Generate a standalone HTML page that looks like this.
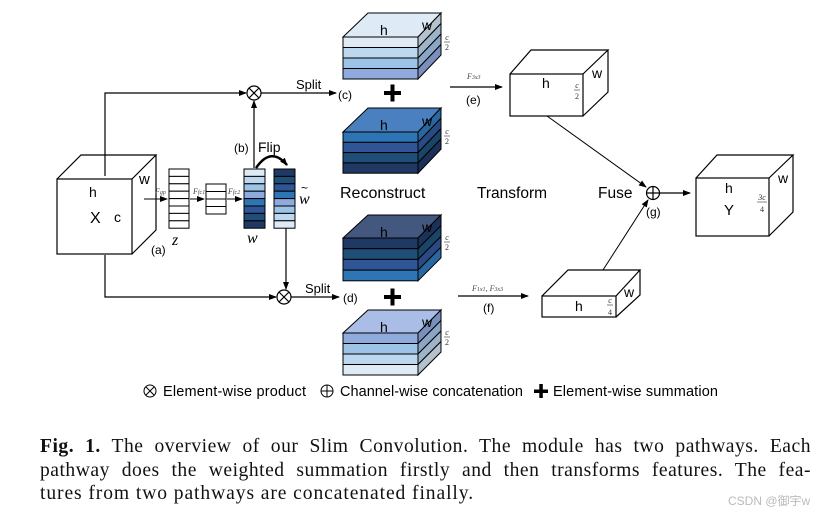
<!DOCTYPE html>
<html><head><meta charset="utf-8"><style>
html,body{margin:0;padding:0;background:#fff;}
body{width:834px;height:515px;position:relative;overflow:hidden;}
svg{position:absolute;left:0;top:0;}
.cap{position:absolute;left:40px;width:771px;font-family:"Liberation Serif",serif;font-size:19.6px;letter-spacing:0.9px;line-height:23.5px;color:#111;white-space:nowrap;}
.j{text-align:justify;text-align-last:justify;letter-spacing:0.5px;}
.wm{position:absolute;left:728px;top:492px;font-family:"Liberation Sans","Noto Sans CJK SC",sans-serif;font-size:12px;color:#bbb;}
</style></head><body>
<svg width="834" height="515" viewBox="0 0 834 515" font-family="Liberation Sans, sans-serif">
<defs>
<marker id="a" markerWidth="8" markerHeight="8" refX="7" refY="4" orient="auto" markerUnits="userSpaceOnUse"><path d="M0,1 L8,4 L0,7 z" fill="#000"/></marker>
</defs>
<g stroke="#000" stroke-width="1.2" fill="none">
<rect x="57" y="179" width="75" height="75" fill="#fff"/>
<path d="M57,179 L81,155 L156,155 L132,179 M156,155 L156,230 L132,254" />
<path d="M105,176 L105,93 L246,93" marker-end="url(#a)"/>
<path d="M105,255 L105,297 L276,297" marker-end="url(#a)"/>
<circle cx="254" cy="93" r="7"/><path d="M249,88 L259,98 M259,88 L249,98"/>
<circle cx="284" cy="297" r="7"/><path d="M279,292 L289,302 M289,292 L279,302"/>
<path d="M254,168 L254,101" marker-end="url(#a)"/>
<path d="M286,228 L286,289" marker-end="url(#a)"/>
<path d="M261,93 L336,93" marker-end="url(#a)"/>
<path d="M291,297 L339,297" marker-end="url(#a)"/>
<path d="M144,199 L167,199" stroke-width="1" marker-end="url(#a)"/>
<path d="M190,199 L204,199" stroke-width="1" marker-end="url(#a)"/>
<path d="M227,199 L242,199" stroke-width="1" marker-end="url(#a)"/>
<path d="M256,168 Q271,146 287,165" stroke-width="2.5" marker-end="url(#a)"/>
<path d="M450,87 L502,87" marker-end="url(#a)"/>
<path d="M458,296 L528,296" marker-end="url(#a)"/>
<path d="M547,116 L646,187" stroke-width="1" marker-end="url(#a)"/>
<path d="M603,270 L648,200" stroke-width="1" marker-end="url(#a)"/>
<circle cx="653" cy="193" r="6.5"/><path d="M646.5,193 L659.5,193 M653,186.5 L653,199.5"/>
<path d="M660,193 L690,193" marker-end="url(#a)"/>
<rect x="510" y="74" width="73" height="42" fill="#fff"/>
<path d="M510,74 L531,50 L608,50 L583,74 M608,50 L608,92 L583,116"/>
<rect x="696" y="178" width="73" height="58" fill="#fff"/>
<path d="M696,178 L717,155 L793,155 L769,178 M793,155 L793,212 L769,236"/>
<rect x="542" y="296" width="74" height="21" fill="#fff"/>
<path d="M542,296 L568,270 L640,270 L616,296 M640,270 L640,295 L616,317"/>
</g>
<g stroke="#000" stroke-width="1">
<g fill="#fff">
<rect x="169" y="169" width="20" height="7.4"/><rect x="169" y="176.4" width="20" height="7.4"/><rect x="169" y="183.8" width="20" height="7.4"/><rect x="169" y="191.2" width="20" height="7.4"/><rect x="169" y="198.6" width="20" height="7.4"/><rect x="169" y="206" width="20" height="7.4"/><rect x="169" y="213.4" width="20" height="7.4"/><rect x="169" y="220.8" width="20" height="7.4"/>
<rect x="206" y="184" width="20" height="7.5"/><rect x="206" y="191.5" width="20" height="7.5"/><rect x="206" y="199" width="20" height="7.5"/><rect x="206" y="206.5" width="20" height="7.5"/>
</g>
<rect x="244" y="169" width="21" height="7.4" fill="#deebf7"/><rect x="244" y="176.4" width="21" height="7.4" fill="#bdd7ee"/><rect x="244" y="183.8" width="21" height="7.4" fill="#9dc3e6"/><rect x="244" y="191.2" width="21" height="7.4" fill="#8faadc"/><rect x="244" y="198.6" width="21" height="7.4" fill="#2e75b6"/><rect x="244" y="206" width="21" height="7.4" fill="#2f5597"/><rect x="244" y="213.4" width="21" height="7.4" fill="#1f4e79"/><rect x="244" y="220.8" width="21" height="7.4" fill="#203864"/>
<rect x="274" y="169" width="21" height="7.4" fill="#203864"/><rect x="274" y="176.4" width="21" height="7.4" fill="#1f4e79"/><rect x="274" y="183.8" width="21" height="7.4" fill="#2f5597"/><rect x="274" y="191.2" width="21" height="7.4" fill="#2e75b6"/><rect x="274" y="198.6" width="21" height="7.4" fill="#8faadc"/><rect x="274" y="206" width="21" height="7.4" fill="#9dc3e6"/><rect x="274" y="213.4" width="21" height="7.4" fill="#bdd7ee"/><rect x="274" y="220.8" width="21" height="7.4" fill="#deebf7"/>
</g>
<g stroke="#000" stroke-width="1">
<polygon points="343,37 368,13 441,13 418,37" fill="#deebf7"/>
<rect x="343" y="37" width="75" height="10.5" fill="#deebf7"/><rect x="343" y="47.5" width="75" height="10.5" fill="#bdd7ee"/><rect x="343" y="58" width="75" height="10.5" fill="#9dc3e6"/><rect x="343" y="68.5" width="75" height="10.5" fill="#8faadc"/>
<polygon points="418,37 441,13 441,23.5 418,47.5" fill="#b4c2cf"/><polygon points="418,47.5 441,23.5 441,34 418,58" fill="#9db3c8"/><polygon points="418,58 441,34 441,44.5 418,68.5" fill="#8aa6c4"/><polygon points="418,68.5 441,44.5 441,55 418,79" fill="#7a8fbd"/>
<polygon points="343,132 368,108 441,108 418,132" fill="#4a80bf"/>
<rect x="343" y="132" width="75" height="10.3" fill="#2e75b6"/><rect x="343" y="142.3" width="75" height="10.3" fill="#2f5597"/><rect x="343" y="152.6" width="75" height="10.3" fill="#1f4e79"/><rect x="343" y="162.9" width="75" height="10.3" fill="#203864"/>
<polygon points="418,132 441,108 441,118.3 418,142.3" fill="#28679f"/><polygon points="418,142.3 441,118.3 441,128.6 418,152.6" fill="#294a84"/><polygon points="418,152.6 441,128.6 441,138.9 418,162.9" fill="#1b4469"/><polygon points="418,162.9 441,138.9 441,149.2 418,173.2" fill="#1c3158"/>
<polygon points="343,238 368,215 441,215 418,238" fill="#44577f"/>
<rect x="343" y="238" width="75" height="10.7" fill="#203864"/><rect x="343" y="248.7" width="75" height="10.7" fill="#1f4e79"/><rect x="343" y="259.4" width="75" height="10.7" fill="#2f5597"/><rect x="343" y="270.1" width="75" height="10.7" fill="#2e75b6"/>
<polygon points="418,238 441,215 441,225.7 418,248.7" fill="#1c3158"/><polygon points="418,248.7 441,225.7 441,236.4 418,259.4" fill="#1b4469"/><polygon points="418,259.4 441,236.4 441,247.1 418,270.1" fill="#294a84"/><polygon points="418,270.1 441,247.1 441,257.8 418,280.8" fill="#28679f"/>
<polygon points="343,333 368,310 441,310 418,333" fill="#a9bde6"/>
<rect x="343" y="333" width="75" height="10.5" fill="#8faadc"/><rect x="343" y="343.5" width="75" height="10.5" fill="#9dc3e6"/><rect x="343" y="354" width="75" height="10.5" fill="#bdd7ee"/><rect x="343" y="364.5" width="75" height="10.5" fill="#deebf7"/>
<polygon points="418,333 441,310 441,320.5 418,343.5" fill="#7a8fbd"/><polygon points="418,343.5 441,320.5 441,331 418,354" fill="#8aa6c4"/><polygon points="418,354 441,331 441,341.5 418,364.5" fill="#9db3c8"/><polygon points="418,364.5 441,341.5 441,352 418,375" fill="#b4c2cf"/>
</g>
<g fill="#000"><rect x="384" y="91" width="17" height="4"/><rect x="390.5" y="84.5" width="4" height="17"/>
<rect x="384" y="295" width="17" height="4"/><rect x="390.5" y="288.5" width="4" height="17"/></g>
<g font-size="14" fill="#000">
<text x="89" y="197">h</text><text x="90" y="223" font-size="16">X</text><text x="114" y="222">c</text><text x="139" y="184" font-size="15">w</text><text x="151" y="254" font-size="12">(a)</text>
<text x="172" y="245" font-family="Liberation Serif,serif" font-style="italic" font-size="16">z</text>
<text x="247" y="243" font-family="Liberation Serif,serif" font-style="italic" font-size="16">w</text>
<text x="299" y="204" font-family="Liberation Serif,serif" font-style="italic" font-size="16">w</text><text x="301" y="192" font-size="12">~</text>
<text x="234" y="152" font-size="12">(b)</text><text x="258" y="152" font-size="14">Flip</text>
<g font-family="Liberation Serif,serif" font-style="italic" font-size="8" fill="#444"><text x="155" y="194">F<tspan font-size="6">gp</tspan></text><text x="193" y="194">F<tspan font-size="6">fc1</tspan></text><text x="228" y="194">F<tspan font-size="6">fc2</tspan></text>
<text x="467" y="79">F<tspan font-size="6">3x3</tspan></text><text x="472" y="291">F<tspan font-size="6">1x1</tspan>, F<tspan font-size="6">3x3</tspan></text></g>
<text x="296" y="89" font-size="13">Split</text><text x="338" y="99" font-size="12">(c)</text>
<text x="305" y="293" font-size="13">Split</text><text x="343" y="302" font-size="12">(d)</text>
<text x="466" y="104" font-size="12">(e)</text><text x="483" y="312" font-size="12">(f)</text><text x="646" y="216" font-size="12">(g)</text>
<text x="340" y="198" font-size="16">Reconstruct</text><text x="477" y="198" font-size="15.5">Transform</text><text x="598" y="198" font-size="15.5">Fuse</text>
<text x="380" y="35">h</text><text x="422" y="30" font-size="14">w</text>
<text x="380" y="130">h</text><text x="422" y="126" font-size="14">w</text>
<text x="380" y="237">h</text><text x="422" y="232" font-size="14">w</text>
<text x="380" y="332">h</text><text x="422" y="327" font-size="14">w</text>
<text x="542" y="88">h</text><text x="592" y="78" font-size="14">w</text>
<text x="725" y="193">h</text><text x="724" y="215" font-size="15">Y</text><text x="778" y="183" font-size="14">w</text>
<text x="575" y="311">h</text><text x="624" y="297" font-size="14">w</text>
</g>
<g font-family="Liberation Serif,serif" font-style="italic" font-size="8" fill="#333" text-anchor="middle">
<text x="447" y="40">c</text><line x1="444" y1="42" x2="450" y2="42" stroke="#333" stroke-width="0.6"/><text x="447" y="50" font-style="normal">2</text>
<text x="447" y="134">c</text><line x1="444" y1="136" x2="450" y2="136" stroke="#333" stroke-width="0.6"/><text x="447" y="144" font-style="normal">2</text>
<text x="447" y="240">c</text><line x1="444" y1="242" x2="450" y2="242" stroke="#333" stroke-width="0.6"/><text x="447" y="250" font-style="normal">2</text>
<text x="447" y="335">c</text><line x1="444" y1="337" x2="450" y2="337" stroke="#333" stroke-width="0.6"/><text x="447" y="345" font-style="normal">2</text>
<text x="577" y="88">c</text><line x1="574" y1="90" x2="580" y2="90" stroke="#333" stroke-width="0.6"/><text x="577" y="99" font-style="normal">2</text>
<text x="762" y="200">3c</text><line x1="757" y1="202" x2="767" y2="202" stroke="#333" stroke-width="0.6"/><text x="762" y="212" font-style="normal">4</text>
<text x="610" y="303">c</text><line x1="607" y1="305" x2="613" y2="305" stroke="#333" stroke-width="0.6"/><text x="610" y="315" font-style="normal">4</text>
</g>
<g stroke="#000" stroke-width="1" fill="none">
<circle cx="150" cy="391" r="6"/><path d="M146,387 L154,395 M154,387 L146,395"/>
<circle cx="327" cy="391" r="6"/><path d="M321,391 L333,391 M327,385 L327,397"/>
</g>
<rect x="534" y="389.5" width="14" height="3.5" fill="#000"/><rect x="539.3" y="384" width="3.5" height="14" fill="#000"/>
<g font-size="14.5" fill="#000"><text x="163" y="396" textLength="143">Element-wise product</text><text x="340" y="396" textLength="183">Channel-wise concatenation</text><text x="553" y="396" textLength="165">Element-wise summation</text></g>
</svg>
<div class="cap j" style="top:435px"><b>Fig. 1.</b> The overview of our Slim Convolution. The module has two pathways. Each</div>
<div class="cap j" style="top:459px">pathway does the weighted summation firstly and then transforms features. The fea-</div>
<div class="cap" style="top:482px">tures from two pathways are concatenated finally.</div>
<div class="wm">CSDN @御宇w</div>
</body></html>
